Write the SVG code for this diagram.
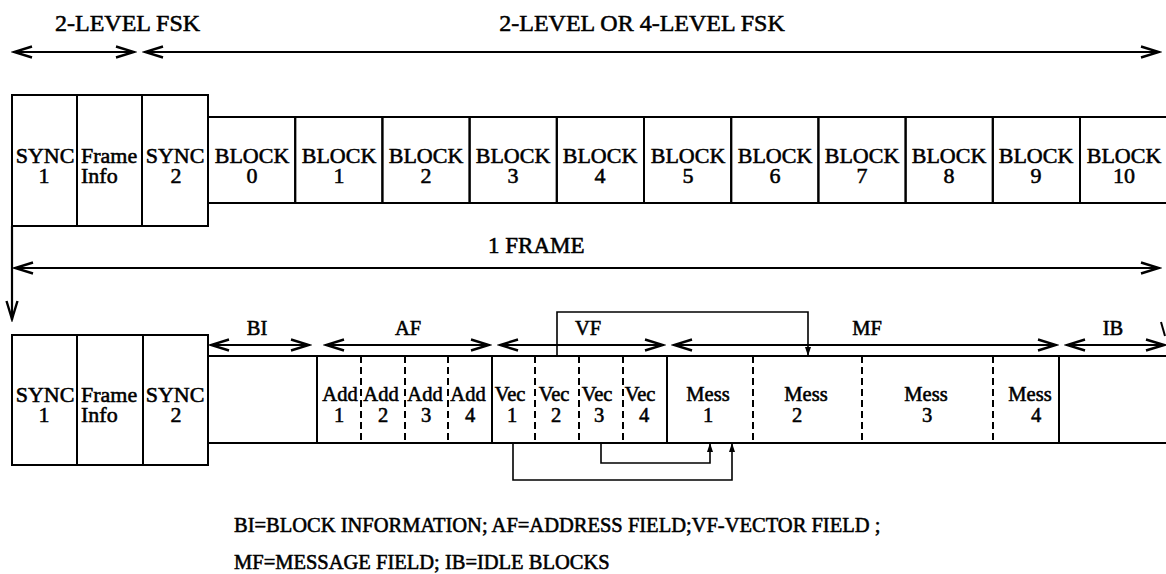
<svg xmlns="http://www.w3.org/2000/svg" width="1166" height="574" viewBox="0 0 1166 574">
<style>
.box{fill:none;stroke:#000;stroke-width:2}
.dash{stroke:#000;stroke-width:2;stroke-dasharray:7 4}
text{font-family:'Liberation Serif','Tinos','Times New Roman','DejaVu Serif',serif}
.t{font-size:22px;fill:#000;stroke:#000;stroke-width:0.55;text-anchor:middle}
.s{font-size:20.5px}
.h{font-size:24px}
.l{text-anchor:start}
.arr{stroke:#000;stroke-width:2.2;fill:none;marker-start:url(#ah);marker-end:url(#ah)}
.one{stroke:#000;stroke-width:2.2;fill:none;marker-end:url(#ah)}
.conn{stroke:#000;stroke-width:1.6;fill:none;marker-end:url(#sm)}
.ln{stroke:#000;stroke-width:2;fill:none}
</style>
<defs>
<marker id="ah" viewBox="-22 -8 24 16" refX="0" refY="0" markerWidth="24" markerHeight="16" markerUnits="userSpaceOnUse" orient="auto-start-reverse">
<path d="M-19,-5.5 L-1,0 L-19,5.5" fill="none" stroke="#000" stroke-width="2.4"/>
</marker>
<marker id="sm" viewBox="-10 -4 11 8" refX="0" refY="0" markerWidth="11" markerHeight="8" markerUnits="userSpaceOnUse" orient="auto">
<path d="M0,0 L-9,-3 L-9,3 Z" fill="#000"/>
</marker>
</defs>
<rect width="1166" height="574" fill="#fff"/>

<g id="labels-top">
<text class="t h l" x="55" y="31">2-LEVEL FSK</text>
<text class="t h" x="642" y="31">2-LEVEL OR 4-LEVEL FSK</text>
<text class="t l" x="488" y="253" style="font-size:23px">1 FRAME</text>
</g>

<g id="top-sync1"><rect class="box" x="12" y="95" width="65" height="131"/><text class="t" x="45" y="163">SYNC</text><text class="t" x="44" y="183">1</text></g>
<g id="top-frameinfo"><rect class="box" x="77" y="95" width="65" height="131"/><text class="t l" x="81" y="163">Frame</text><text class="t l" x="81" y="183">Info</text></g>
<g id="top-sync2"><rect class="box" x="142" y="95" width="66" height="131"/><text class="t" x="175" y="163">SYNC</text><text class="t" x="176" y="183">2</text></g>
<g id="block0"><rect class="box" x="208" y="117" width="87.2" height="86"/><text class="t" x="252" y="163">BLOCK</text><text class="t" x="252" y="183">0</text></g>
<g id="block1"><rect class="box" x="295.2" y="117" width="87.2" height="86"/><text class="t" x="339" y="163">BLOCK</text><text class="t" x="339" y="183">1</text></g>
<g id="block2"><rect class="box" x="382.4" y="117" width="87.2" height="86"/><text class="t" x="426" y="163">BLOCK</text><text class="t" x="426" y="183">2</text></g>
<g id="block3"><rect class="box" x="469.6" y="117" width="87.2" height="86"/><text class="t" x="513" y="163">BLOCK</text><text class="t" x="513" y="183">3</text></g>
<g id="block4"><rect class="box" x="556.8" y="117" width="87.2" height="86"/><text class="t" x="600" y="163">BLOCK</text><text class="t" x="600" y="183">4</text></g>
<g id="block5"><rect class="box" x="644" y="117" width="87.2" height="86"/><text class="t" x="688" y="163">BLOCK</text><text class="t" x="688" y="183">5</text></g>
<g id="block6"><rect class="box" x="731.2" y="117" width="87.2" height="86"/><text class="t" x="775" y="163">BLOCK</text><text class="t" x="775" y="183">6</text></g>
<g id="block7"><rect class="box" x="818.4" y="117" width="87.2" height="86"/><text class="t" x="862" y="163">BLOCK</text><text class="t" x="862" y="183">7</text></g>
<g id="block8"><rect class="box" x="905.6" y="117" width="87.2" height="86"/><text class="t" x="949" y="163">BLOCK</text><text class="t" x="949" y="183">8</text></g>
<g id="block9"><rect class="box" x="992.8" y="117" width="87.2" height="86"/><text class="t" x="1036" y="163">BLOCK</text><text class="t" x="1036" y="183">9</text></g>
<g id="block10"><rect class="box" x="1080" y="117" width="100" height="86"/><text class="t" x="1124" y="163">BLOCK</text><text class="t" x="1124" y="183">10</text></g>

<g id="bot-sync1"><rect class="box" x="12" y="335" width="65" height="130"/><text class="t" x="45" y="402">SYNC</text><text class="t" x="44" y="422">1</text></g>
<g id="bot-frameinfo"><rect class="box" x="77" y="335" width="66" height="130"/><text class="t l" x="81" y="402">Frame</text><text class="t l" x="81" y="422">Info</text></g>
<g id="bot-sync2"><rect class="box" x="143" y="335" width="65" height="130"/><text class="t" x="175" y="402">SYNC</text><text class="t" x="176" y="422">2</text></g>
<g id="bi"><rect class="box" x="208" y="356" width="109" height="87"/></g>
<g id="af">
<rect class="box" x="317" y="356" width="175" height="87"/>
<line class="dash" x1="361" y1="356" x2="361" y2="443"/>
<line class="dash" x1="405" y1="356" x2="405" y2="443"/>
<line class="dash" x1="448" y1="356" x2="448" y2="443"/>
<g id="add1"><text class="t s" x="340" y="401">Add</text><text class="t s" x="339" y="422">1</text></g>
<g id="add2"><text class="t s" x="381" y="401">Add</text><text class="t s" x="383" y="422">2</text></g>
<g id="add3"><text class="t s" x="425" y="401">Add</text><text class="t s" x="426" y="422">3</text></g>
<g id="add4"><text class="t s" x="468" y="401">Add</text><text class="t s" x="470" y="422">4</text></g>
</g>
<g id="vf">
<rect class="box" x="492" y="356" width="175" height="87"/>
<line class="dash" x1="535" y1="356" x2="535" y2="443"/>
<line class="dash" x1="579" y1="356" x2="579" y2="443"/>
<line class="dash" x1="623" y1="356" x2="623" y2="443"/>
<g id="vec1"><text class="t s" x="510" y="401">Vec</text><text class="t s" x="512" y="422">1</text></g>
<g id="vec2"><text class="t s" x="554" y="401">Vec</text><text class="t s" x="556" y="422">2</text></g>
<g id="vec3"><text class="t s" x="597" y="401">Vec</text><text class="t s" x="599" y="422">3</text></g>
<g id="vec4"><text class="t s" x="640" y="401">Vec</text><text class="t s" x="644" y="422">4</text></g>
</g>
<g id="mf">
<rect class="box" x="667" y="356" width="392" height="87"/>
<line class="dash" x1="753" y1="356" x2="753" y2="443"/>
<line class="dash" x1="862" y1="356" x2="862" y2="443"/>
<line class="dash" x1="993" y1="356" x2="993" y2="443"/>
<g id="mess1"><text class="t s" x="708" y="401">Mess</text><text class="t s" x="708" y="422">1</text></g>
<g id="mess2"><text class="t s" x="806" y="401">Mess</text><text class="t s" x="797" y="422">2</text></g>
<g id="mess3"><text class="t s" x="926" y="401">Mess</text><text class="t s" x="927" y="422">3</text></g>
<g id="mess4"><text class="t s" x="1030" y="401">Mess</text><text class="t s" x="1036" y="422">4</text></g>
</g>
<g id="ib"><rect class="box" x="1059" y="356" width="120" height="87"/></g>

<g id="field-labels">
<text class="t s" x="257" y="335">BI</text>
<text class="t s" x="408" y="335">AF</text>
<text class="t s" x="588" y="335">VF</text>
<text class="t s" x="867" y="335">MF</text>
<text class="t s" x="1113" y="335">IB</text>
</g>

<g id="connectors">
<line class="arr" x1="13" y1="52" x2="135" y2="52"/>
<line class="arr" x1="144" y1="52" x2="1160" y2="52"/>
<line class="one" x1="14" y1="268" x2="1160" y2="268" style="marker-start:url(#ah)"/>
<line class="one" x1="12" y1="226" x2="12" y2="320"/>
<line class="arr" x1="210" y1="345" x2="310" y2="345"/>
<line class="arr" x1="325" y1="345" x2="490" y2="345"/>
<line class="arr" x1="499" y1="345" x2="664" y2="345"/>
<line class="arr" x1="673" y1="345" x2="1057" y2="345"/>
<line class="arr" x1="1066" y1="345" x2="1165" y2="345"/>
<polyline class="conn" points="557,356 557,312 808,312 808,356"/>
<polyline class="conn" points="513,443 513,480 732,480 732,443"/>
<polyline class="conn" points="601,443 601,463 710,463 710,443"/>
<line class="ln" x1="1161" y1="322" x2="1165" y2="336"/>
</g>

<g id="legend">
<text class="t s l" x="234" y="532">BI=BLOCK INFORMATION; AF=ADDRESS FIELD;VF-VECTOR FIELD ;</text>
<text class="t s l" x="234" y="569">MF=MESSAGE FIELD; IB=IDLE BLOCKS</text>
</g>
</svg>
